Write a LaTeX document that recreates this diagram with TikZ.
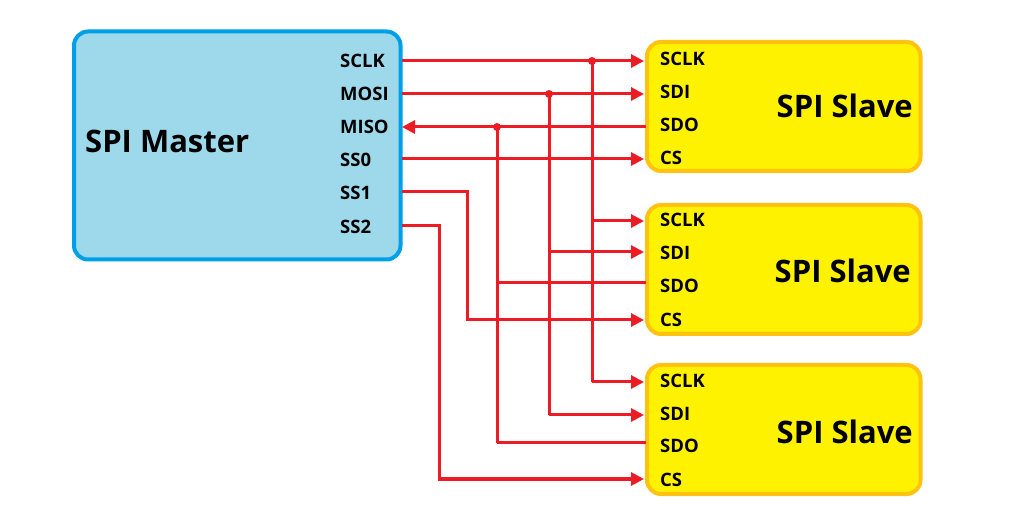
\documentclass[tikz,border=0pt]{standalone}
\usepackage{fontspec}
\setmainfont{Open Sans}
\usetikzlibrary{arrows.meta}
\definecolor{mfill}{HTML}{9DD9EA}
\definecolor{mline}{HTML}{00A0E9}
\definecolor{sfill}{HTML}{FFF200}
\definecolor{sline}{HTML}{FFC20E}
\definecolor{wire}{HTML}{ED1C24}
\tikzset{
  masterbox/.style={draw=mline,fill=mfill,line width=4pt,rounded corners=14pt},
  slavebox/.style={draw=sline,fill=sfill,line width=4pt,rounded corners=14pt},
  pin/.style={anchor=west,inner sep=0pt,font=\fontsize{18.5}{18.5}\selectfont\bfseries},
  title/.style={inner sep=0pt,font=\fontsize{31}{31}\selectfont\bfseries},
  wireline/.style={draw=wire,line width=3pt},
  arr/.style={wireline,-{Triangle[length=13pt,width=13pt]}},
  dot/.style={circle,fill=wire,inner sep=0pt,minimum size=8pt}
}
\begin{document}
\begin{tikzpicture}[x=1pt,y=-1pt]
\useasboundingbox (0,0) rectangle (1013,529);
% boxes
\draw[masterbox] (74,31.5) rectangle (400.5,259.5);
\node[title,anchor=west] (mt) at (85,141) {SPI Master};
\foreach \y/\n in {42/1,205/2,365/3}{
  \draw[slavebox] (647,\y) rectangle (920.5,\y+129);
}
\node[title,anchor=east] (st1) at (913,106) {SPI Slave};
\node[title,anchor=east] (st2) at (911,271) {SPI Slave};
\node[title,anchor=east] (st3) at (913,432) {SPI Slave};
% master pins
\node[pin] (lsclk) at (340,61) {SCLK};
\node[pin] (lmosi) at (340,94) {MOSI};
\node[pin] (lmiso) at (340,127) {MISO};
\node[pin] (lss0) at (340,160) {SS0};
\node[pin] (lss1) at (340,193) {SS1};
\node[pin] (lss2) at (340,227) {SS2};
\coordinate (m1) at (402,61);
\coordinate (m2) at (402,94);
\coordinate (m3) at (402,127);
\coordinate (m4) at (402,159);
\coordinate (m5) at (402,192);
\coordinate (m6) at (402,226);
% slave pins
\foreach \k/\a/\b/\c/\d in {1/59/92/125/158,2/220/253/286/320,3/381/414/446/480}{
  \node[pin] (a\k) at (660,\a) {SCLK};
  \node[pin] (b\k) at (660,\b) {SDI};
  \node[pin] (c\k) at (660,\c) {SDO};
  \node[pin] (d\k) at (660,\d) {CS};
}
\foreach \k/\a/\b/\c/\d in {1/61/94/127/159,2/221/252/283/320,3/382/415/443/479}{
  \coordinate (sa\k) at (644,\a);
  \coordinate (sb\k) at (644,\b);
  \coordinate (sc\k) at (646,\c);
  \coordinate (sd\k) at (644,\d);
}
% junctions
\coordinate (j1) at (592,61);
\coordinate (j2) at (549,94);
\coordinate (j3) at (497,127);
\coordinate (k5) at (467,192);
\coordinate (k6) at (439,226);
% SCLK
\draw[arr] (m1) -- (sa1);
\draw[wireline] (j1) -- (j1 |- sa3);
\draw[arr] (j1 |- sa2) -- (sa2);
\draw[arr] (j1 |- sa3) -- (sa3);
% MOSI
\draw[arr] (m2) -- (sb1);
\draw[wireline] (j2) -- (j2 |- sb3);
\draw[arr] (j2 |- sb2) -- (sb2);
\draw[arr] (j2 |- sb3) -- (sb3);
% MISO
\draw[arr] (sc1) -- (m3);
\draw[wireline] (j3) -- (j3 |- sc3);
\draw[wireline] (sc2) -- (j3 |- sc2);
\draw[wireline] (sc3) -- (j3 |- sc3);
% SS
\draw[arr] (m4) -- (sd1);
\draw[arr] (m5) -- (k5) |- (sd2);
\draw[arr] (m6) -- (k6) |- (sd3);
\node[dot] (d1) at (j1) {};
\node[dot] (d2) at (j2) {};
\node[dot] (d3) at (j3) {};
\end{tikzpicture}
\end{document}
